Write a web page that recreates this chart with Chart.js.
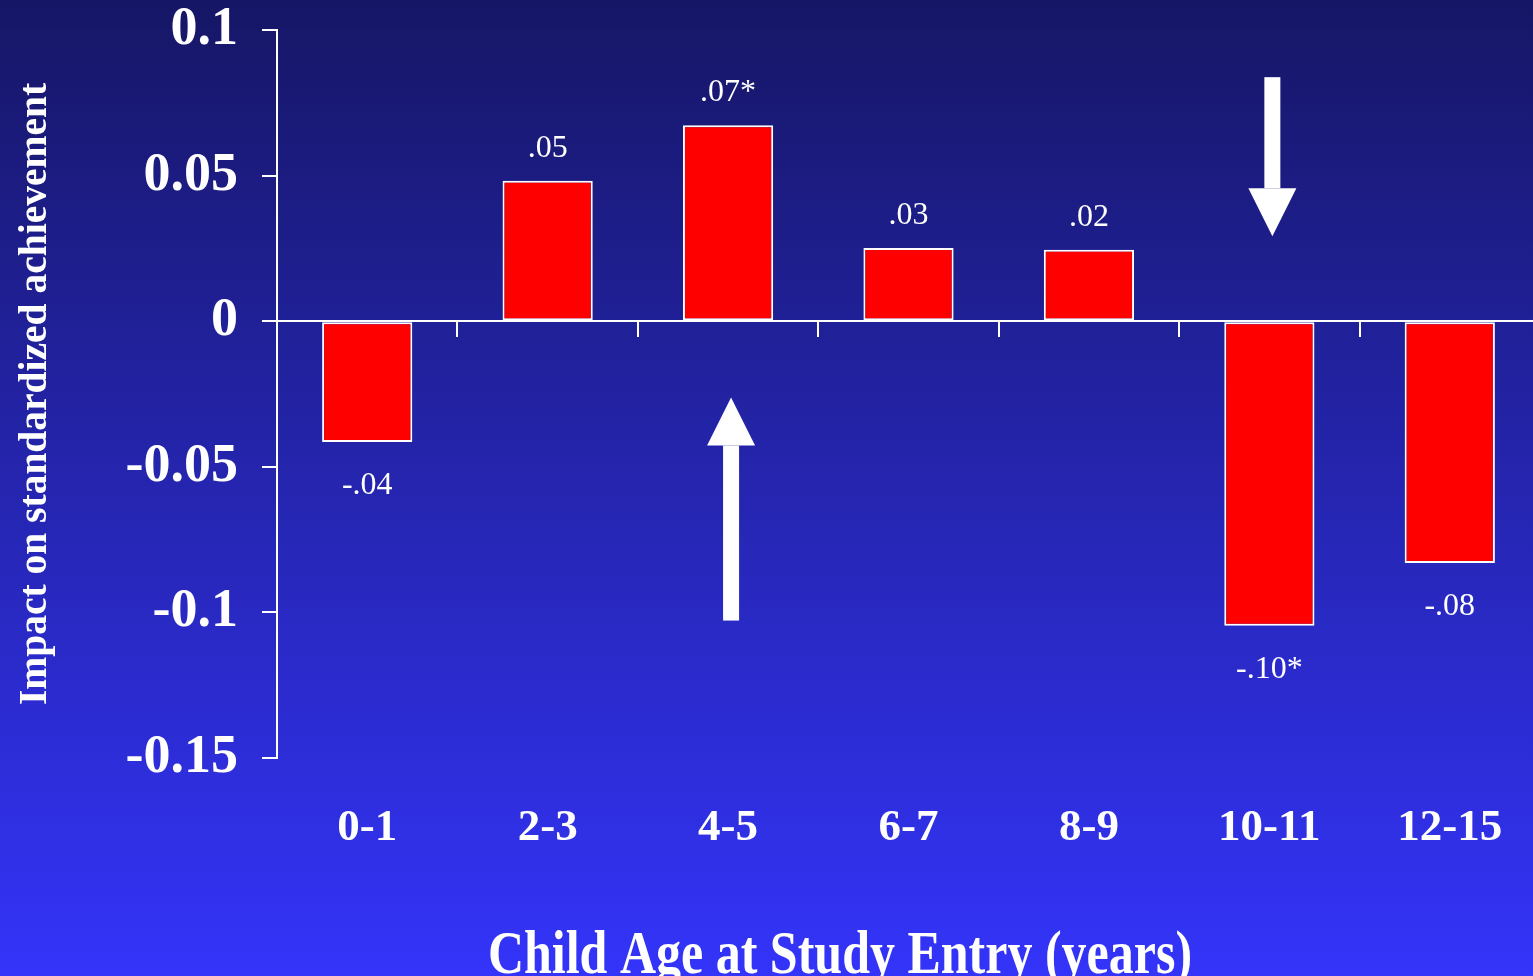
<!DOCTYPE html>
<html>
<head>
<meta charset="utf-8">
<title>Impact by child age</title>
<script src="https://cdn.jsdelivr.net/npm/chart.js@4.4.1/dist/chart.umd.min.js"></script>
<style>
    html, body { margin: 0; padding: 0; overflow: hidden; background: #3434fa; }
    #contenedor { width: 1540px; height: 976px; position: relative; }
</style>
</head>
<body>
<div id="contenedor"><canvas id="grafico"></canvas></div>
<script>
const categorias = ['0-1', '2-3', '4-5', '6-7', '8-9', '10-11', '12-15'];
const impactos = [-0.0415, 0.0482, 0.0673, 0.0251, 0.0245, -0.1046, -0.0830];
const etiquetas = ['-.04', '.05', '.07*', '.03', '.02', '-.10*', '-.08'];
const ticksY = ['-0.15', '-0.1', '-0.05', '0', '0.05', '0.1'];
const tituloX = 'Child Age at Study Entry (years)';
const tituloY = 'Impact on standardized achievement';

const serif = '"Liberation Serif", "Times New Roman", Times, serif';

// Fondo degradado azul
const fondo = {
    id: 'fondo',
    beforeDraw(chart) {
        const ctx = chart.ctx;
        const g = ctx.createLinearGradient(0, 0, 0, chart.height);
        g.addColorStop(0, '#161666');
        g.addColorStop(1, '#3434fa');
        ctx.save();
        ctx.fillStyle = g;
        ctx.fillRect(0, 0, chart.width, chart.height);
        ctx.restore();
    }
};

// Etiquetas de valor, flechas y titulo del eje x
const extras = {
    id: 'extras',
    afterDraw(chart) {
        const ctx = chart.ctx;
        const xs = chart.scales.x;
        const ys = chart.scales.y;
        const barras = chart.getDatasetMeta(0).data;

        ctx.save();
        ctx.fillStyle = '#ffffff';
        ctx.textAlign = 'center';
        ctx.textBaseline = 'alphabetic';
        ctx.font = '32px ' + serif;
        barras.forEach((b, i) => {
            const y = impactos[i] >= 0 ? b.y - 24 : b.y + 52;
            ctx.fillText(etiquetas[i], b.x, y);
        });

        // flechas blancas
        const flechas = [
            { cat: '4-5', desde: -0.1028, hasta: -0.0262 },
            { cat: '10-11', desde: 0.0838, hasta: 0.0292 }
        ];
        flechas.forEach(f => {
            const x = xs.getPixelForValue(categorias.indexOf(f.cat)) + 3;
            const y0 = ys.getPixelForValue(f.desde);
            const y1 = ys.getPixelForValue(f.hasta);
            const dir = y1 > y0 ? 1 : -1;
            const cabeza = 48;
            const yb = y1 - dir * cabeza;
            ctx.fillRect(x - 8, Math.min(y0, yb), 16, Math.abs(yb - y0));
            ctx.beginPath();
            ctx.moveTo(x - 24, yb);
            ctx.lineTo(x + 24, yb);
            ctx.lineTo(x, y1);
            ctx.closePath();
            ctx.fill();
        });

        ctx.font = 'bold 50px ' + serif;
        ctx.translate(840, 973);
        ctx.scale(1, 1.22);
        ctx.fillText(tituloX, 0, 0);
        ctx.restore();
    }
};

const ctx = document.getElementById('grafico').getContext('2d');
new Chart(ctx, {
    type: 'bar',
    data: {
        labels: categorias,
        datasets: [{
            data: impactos,
            backgroundColor: '#ff0000',
            borderColor: '#ffffff',
            borderWidth: 2,
            borderSkipped: false,
            barPercentage: 0.5,
            categoryPercentage: 1
        }]
    },
    options: {
        responsive: true,
        maintainAspectRatio: false,
        animation: false,
        layout: { padding: { top: 30, left: 0, right: 0, bottom: 0 } },
        plugins: {
            legend: { display: false },
            tooltip: { enabled: false }
        },
        scales: {
            x: {
                position: 'bottom',
                grid: { display: false, drawTicks: false },
                border: { display: false },
                ticks: {
                    color: '#ffffff',
                    padding: 43,
                    maxRotation: 0,
                    font: { family: serif, size: 45, weight: 'bold' }
                },
                afterFit(scale) {
                    scale.height = 218;
                    scale.paddingLeft = 0;
                    scale.paddingRight = 0;
                }
            },
            x0: {
                type: 'category',
                position: { y: 0 },
                offset: true,
                grid: {
                    offset: true,
                    drawOnChartArea: false,
                    drawTicks: true,
                    tickLength: 15,
                    color: '#ffffff',
                    lineWidth: 2
                },
                border: { display: true, color: '#ffffff', width: 2 },
                ticks: { display: false }
            },
            y: {
                min: -0.15,
                max: 0.1,
                grid: {
                    drawOnChartArea: false,
                    drawTicks: true,
                    tickLength: 15,
                    color: '#ffffff',
                    lineWidth: 2
                },
                border: { display: true, color: '#ffffff', width: 2 },
                ticks: {
                    stepSize: 0.05,
                    color: '#ffffff',
                    padding: 24,
                    font: { family: serif, size: 54, weight: 'bold', lineHeight: 1 },
                    callback: (v, i) => ticksY[i]
                },
                title: {
                    display: true,
                    text: tituloY,
                    color: '#ffffff',
                    padding: { top: 12, bottom: 0 },
                    font: { family: serif, size: 39.5, weight: 'bold' }
                },
                afterFit(scale) {
                    scale.width = 277;
                    scale.paddingTop = 0;
                    scale.paddingBottom = 0;
                }
            }
        }
    },
    plugins: [fondo, extras]
});
</script>
</body>
</html>
